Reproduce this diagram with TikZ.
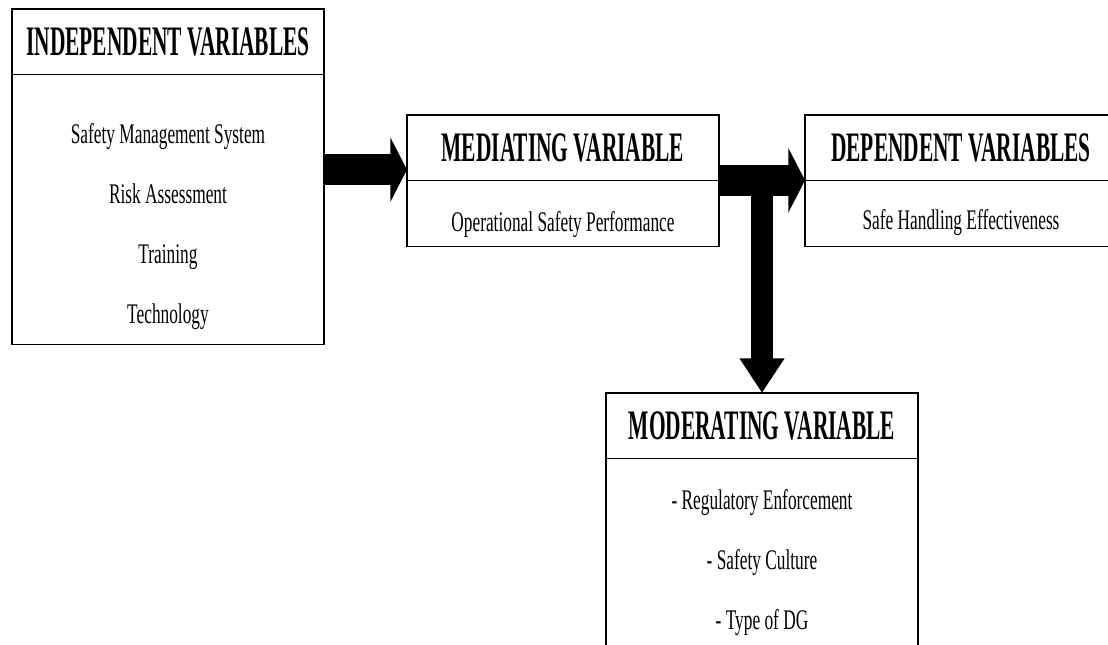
\documentclass[tikz,border=0pt]{standalone}
\usepackage{fontspec}
\setmainfont{Liberation Serif}[FakeStretch=0.61]
\newfontfamily\headfont{Liberation Serif}[FakeStretch=0.51]
\usetikzlibrary{arrows.meta,positioning}

\begin{document}
\begin{tikzpicture}[x=0.75pt,y=0.75pt,node distance=0pt,
        box/.style={draw,line width=1pt,outer sep=0pt,inner sep=0pt},
        head/.style={box,anchor=north west,minimum width=234pt,minimum height=49pt,
            font=\headfont\bfseries\fontsize{31.5}{31.5}\selectfont},
        body/.style={box,minimum width=234pt,minimum height=#1},
        items/.style={inner sep=0pt,align=center,font=\fontsize{21.3}{45}\selectfont},
        bigarrow/.style={line width=23pt,-{Triangle[width=48pt,length=12.5pt]}},
        downarrow/.style={line width=16.5pt,-{Triangle[width=32pt,length=26pt]}}]

    \clip (0,0) rectangle (1108,645);

    \node[head] (indhead) at (12,636) {INDEPENDENT VARIABLES};
    \node[body=202.5pt,below=of indhead] (indbody) {};
    \node[items,below=37pt of indhead] (indlist) {Safety Management System\\Risk Assessment\\Training\\Technology};

    \node[head] (medhead) at (407,530) {MEDIATING VARIABLE};
    \node[body=49.5pt,below=of medhead] (medbody) {};
    \node[items,below=23.5pt of medhead] (medlist) {Operational Safety Performance};

    \node[head] (dephead) at (805,530) {DEPENDENT VARIABLES};
    \node[body=49.5pt,below=of dephead] (depbody) {};
    \node[items,below=21.5pt of dephead] (deplist) {Safe Handling Effectiveness};

    \node[head] (modhead) at (606,252) {MODERATING VARIABLE};
    \node[body=157.5pt,below=of modhead] (modbody) {};
    \node[items,below=23.5pt of modhead] (modlist) {- Regulatory Enforcement\\- Safety Culture\\- Type of DG};

    \coordinate (a1) at ([yshift=8pt]medhead.south west);
    \draw[downarrow] (modhead.north |- medhead.south) -- (modhead.north);
    \path (a1 -| indbody.east) edge[bigarrow] (a1)
        (medhead.south east) edge[bigarrow] (dephead.south west);

\end{tikzpicture}
\end{document}
